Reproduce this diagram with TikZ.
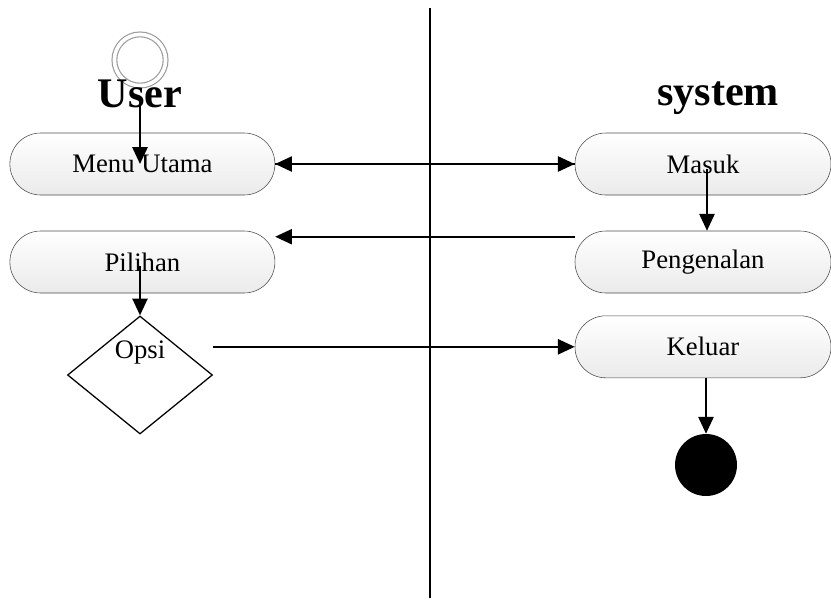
\documentclass[tikz,border=0pt]{standalone}
\usepackage{fontspec}
\setmainfont{Liberation Serif}
\usetikzlibrary{arrows.meta,shapes.geometric}
\newcommand{\boxFont}{\fontsize{19}{22}\selectfont}
\newcommand{\laneFont}{\fontsize{30}{34}\selectfont\bfseries}

\begin{document}
\begin{tikzpicture}[%
  activityStyle/.style={draw=gray!60!black,rectangle,rounded corners=0.77cm,minimum height=1.55cm,top color=white,bottom color=gray!16,font=\boxFont,inner sep=0pt},%
  decisionStyle/.style={draw,line width=0.9pt,diamond,minimum width=3.625cm,minimum height=2.95cm,inner sep=0pt,font=\boxFont},%
  startStyle/.style={circle,draw=gray!80,double=white,double distance=2.6pt,line width=0.8pt,minimum size=1.28cm,inner sep=0pt},%
  endStyle/.style={circle,fill=black,minimum size=1.55cm,inner sep=0pt},%
  arrowStyle/.style={line width=1.3pt,-{Triangle[length=0.42cm,width=0.38cm]}},%
  laneStyle/.style={line width=1pt}%
]
%
%
\pgfmathsetmacro{\leftWidth}{6.625}
\pgfmathsetmacro{\rightWidth}{6.4}
%
\useasboundingbox (0,0) rectangle (20.775,-15);
%
% The swimlane divider.
\coordinate (laneTop) at (10.75,-0.2);
\coordinate (laneBottom) at (10.75,-14.95);
\draw[laneStyle] (laneTop) -- (laneBottom);
%
% User lane.
\node[startStyle] (start) at (3.5,-1.5) {};
\node[font=\laneFont] (userTitle) at (3.5,-2.35) {User};
\node[activityStyle,minimum width=\leftWidth cm] (menu) at (3.56,-4.1) {Menu Utama};
\node[activityStyle,minimum width=\leftWidth cm] (pilihan) at (3.56,-6.55) {Pilihan};
\node[decisionStyle] (opsi) at (3.5,-9.375) {\raisebox{0.42cm}[0pt][0pt]{Opsi}};
%
% System lane.
\node[font=\laneFont] (systemTitle) at (17.95,-2.45) {system};
\node[activityStyle,minimum width=\rightWidth cm] (masuk) at (17.575,-4.1) {Masuk};
\node[activityStyle,minimum width=\rightWidth cm] (pengenalan) at (17.575,-6.55) {Pengenalan};
\node[activityStyle,minimum width=\rightWidth cm] (keluar) at (17.575,-8.67) {Keluar};
\node[endStyle] (end) at (17.65,-11.625) {};
%
% The flows.
\draw[arrowStyle,shorten <=0.4cm] (start) -- (start |- menu.center);
\draw[arrowStyle] (menu.east) -- (masuk.west);
\draw[arrowStyle] (masuk.west) -- (menu.east);
\draw[arrowStyle,shorten <=0.12cm] ([xshift=0.1cm]masuk.center) -- ([xshift=0.1cm]pengenalan.north);
\draw[arrowStyle] ([yshift=-0.15cm]pengenalan.north west) -- ([yshift=-0.15cm]pilihan.north east);
\draw[arrowStyle,shorten <=0.1cm] (pilihan.center -| opsi.north) -- (opsi.north);
\draw[arrowStyle] (opsi.east |- keluar.west) -- (keluar.west);
\draw[arrowStyle] (keluar.south -| end) -- (end.north);
\end{tikzpicture}
\end{document}
